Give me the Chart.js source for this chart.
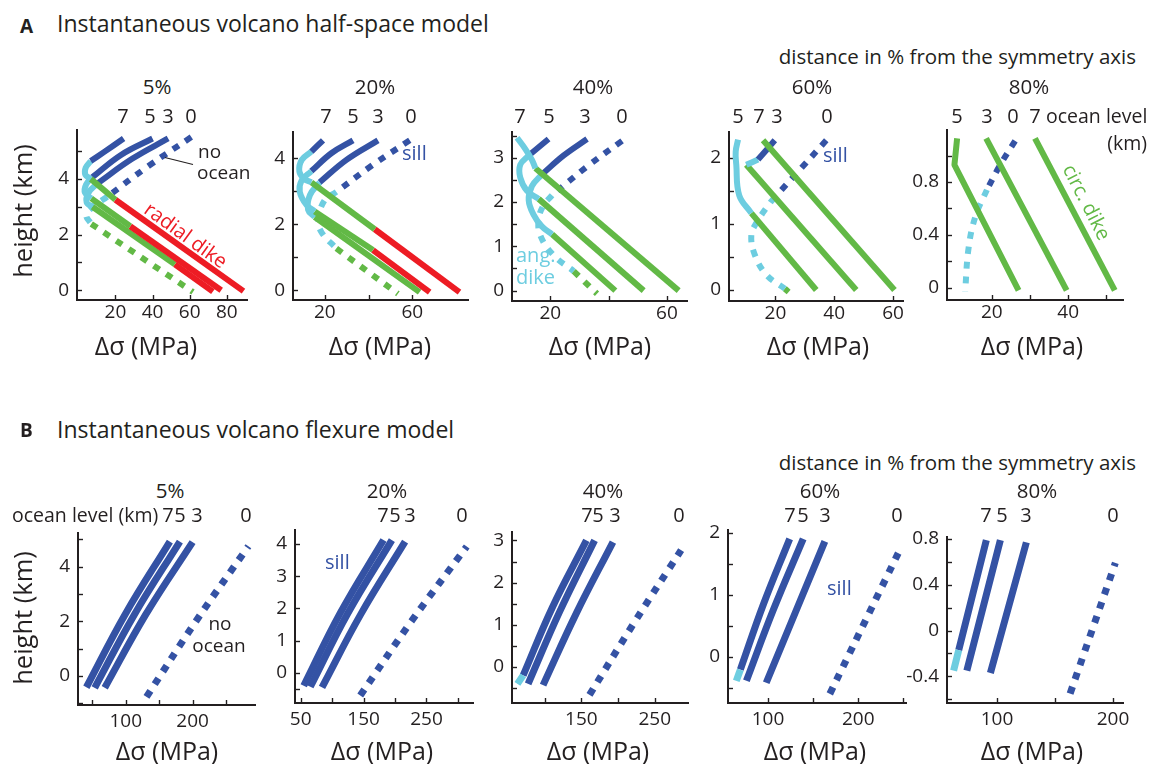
<!DOCTYPE html>
<html><head><meta charset="utf-8">
<script src="https://cdn.jsdelivr.net/npm/chart.js@4.4.1/dist/chart.umd.min.js"></script>
<style>
html,body{margin:0;padding:0;background:#fff}
body{width:1150px;height:764px;overflow:hidden;position:relative;font-family:"Open Sans",sans-serif;color:#231f20}
.t{position:absolute;white-space:nowrap;line-height:1}
canvas{position:absolute}
</style></head><body>
<script>
// ---------------- DATA ----------------
// regime codes: S = sill, A = ang. dike, C = circ. dike, R = radial dike
// each point: [Δσ (MPa), height (km), regime of the segment that starts at this point]
const oceanLevels = ['7','5','3','0'];
const distances = ['5%','20%','40%','60%','80%'];

// A: half-space model
const hs05_L7 = [[24.4,5.45,'S'],[14,4.97,'S'],[6.7,4.64,'A'],[4,4.4,'A'],[3.8,4.15,'A'],[6.7,4.0,'C'],[20,3.25,'R'],[89,-0.03,'R']];
const hs05_L5 = [[40,5.45,'S'],[23,4.86,'S'],[7.6,4.06,'A'],[4.2,3.8,'A'],[3.6,3.5,'A'],[7,3.3,'C'],[28,2.3,'R'],[77,0,'R']];
const hs05_L3 = [[48.4,5.45,'S'],[29,4.72,'S'],[10.2,3.83,'A'],[5.5,3.5,'A'],[4.5,3.15,'A'],[7.6,3.0,'C'],[52,0.93,'R'],[72.5,-0.05,'R']];
const hs05_L0 = [[60.9,5.5,'S'],[37.8,4.46,'S'],[15.6,3.36,'A'],[8,3.0,'A'],[4.3,2.7,'A'],[7,2.38,'C'],[61.8,-0.06,'C']];

const hs20_L7 = [[19.2,4.54,'S'],[13.9,4.2,'A'],[9.5,3.95,'A'],[8.4,3.6,'A'],[10.5,3.38,'A'],[13.9,3.27,'C'],[42.8,1.85,'R'],[81.5,-0.05,'R']];
const hs20_L5 = [[32.9,4.54,'S'],[23,4.15,'S'],[13.9,3.61,'A'],[9.4,3.32,'A'],[8.6,2.98,'A'],[11.6,2.59,'A'],[15.4,2.39,'C'],[42,1.22,'R'],[67.9,-0.05,'R']];
const hs20_L3 = [[44.3,4.54,'S'],[29.9,3.95,'S'],[17.7,3.27,'A'],[13.2,2.88,'A'],[12.4,2.44,'A'],[15.4,2.22,'C'],[63.3,-0.05,'C']];
const hs20_L0 = [[58.8,4.54,'S'],[42,3.8,'S'],[25.3,2.98,'A'],[20,2.73,'A'],[17,2.15,'A'],[18.5,1.76,'A'],[25.3,1.27,'C'],[53.4,-0.1,'C']];

const hs40_L7 = [[8.6,3.45,'A'],[11.4,3.2,'A'],[13.7,2.95,'A'],[14.9,2.76,'C'],[64,0,'C']];
const hs40_L5 = [[19.4,3.42,'S'],[12.6,3.05,'A'],[9.7,2.84,'A'],[9.7,2.55,'A'],[12,2.25,'A'],[16,2.07,'C'],[52,0,'C']];
const hs40_L3 = [[32.6,3.42,'S'],[24.6,3.05,'S'],[17.1,2.62,'A'],[13.7,2.36,'A'],[12.6,2.04,'A'],[14.3,1.71,'A'],[17.1,1.45,'A'],[20.6,1.27,'C'],[42.3,0,'C']];
const hs40_L0 = [[44.6,3.38,'S'],[32.6,2.8,'S'],[20.6,2.15,'A'],[17.7,1.93,'A'],[16,1.6,'A'],[16.6,1.24,'A'],[21.1,0.8,'A'],[28,0.44,'C'],[36,-0.07,'C']];

const hs60_L7 = [[15.8,2.26,'C'],[60.5,0,'C']];
const hs60_L5 = [[7.3,2.27,'A'],[6.5,2.09,'A'],[6.7,1.89,'A'],[7.7,1.43,'A'],[11.8,1.16,'C'],[33.9,0,'C']];
const hs60_L3 = [[19.8,2.26,'S'],[14.1,1.97,'A'],[10.1,1.89,'C'],[47.5,0,'C']];
const hs60_L0 = [[37.3,2.26,'S'],[28.8,1.84,'S'],[19.8,1.4,'A'],[18.1,1.31,'A'],[13.5,1.01,'A'],[11.8,0.82,'A'],[13,0.53,'A'],[16.9,0.23,'A'],[23.2,0.02,'C'],[24.5,-0.03,'C']];

const hs80_L7 = [[31.3,1.13,'C'],[52.2,-0.02,'C']];
const hs80_L5 = [[10.9,1.13,'C'],[10.2,0.93,'C'],[27,-0.02,'C']];
const hs80_L3 = [[18.5,1.13,'C'],[39.6,-0.02,'C']];
const hs80_L0 = [[26.1,1.11,'S'],[22.2,0.93,'S'],[18.7,0.74,'A'],[15.7,0.54,'A'],[13.9,0.30,'A'],[13,-0.03,'A']];

// B: flexure model
const fx05_L7 = [[41,-0.42,'S'],[99,2.25,'S'],[166,4.92,'S']];
const fx05_L5 = [[53.5,-0.44,'S'],[113,2.25,'S'],[181,4.92,'S']];
const fx05_L3 = [[68.5,-0.44,'S'],[130,2.25,'S'],[200,4.9,'S']];
const fx05_L0 = [[131,-0.77,'S'],[205,2.0,'S'],[283.5,4.75,'S']];

const fx20_L7 = [[54.8,-0.4,'S'],[113,1.86,'S'],[181.7,4.12,'S']];
const fx20_L5 = [[65.3,-0.43,'S'],[125,1.85,'S'],[195,4.12,'S']];
const fx20_L3 = [[83.9,-0.45,'S'],[145,1.8,'S'],[216,4.07,'S']];
const fx20_L0 = [[144.7,-0.7,'S'],[226,1.6,'S'],[314,3.92,'S']];

const fx40_L7 = [[62.7,-0.4,'A'],[70.5,-0.2,'S'],[110,1.4,'S'],[156.8,3.0,'S']];
const fx40_L5 = [[77.3,-0.4,'S'],[120,1.3,'S'],[168,3.0,'S']];
const fx40_L3 = [[97.7,-0.43,'S'],[143,1.27,'S'],[193,2.96,'S']];
const fx40_L0 = [[161,-0.66,'S'],[222,1.05,'S'],[286,2.77,'S']];

const fx60_L7 = [[64.8,-0.39,'A'],[69.3,-0.21,'S'],[95,0.85,'S'],[124,1.9,'S']];
const fx60_L5 = [[76,-0.39,'S'],[106,0.76,'S'],[139,1.9,'S']];
const fx60_L3 = [[98,-0.42,'S'],[163,1.86,'S']];
const fx60_L0 = [[168.5,-0.6,'S'],[244.4,1.67,'S']];

const fx80_L7 = [[62.6,-0.35,'A'],[67,-0.17,'S'],[90.8,0.79,'S']];
const fx80_L5 = [[74,-0.35,'S'],[102.9,0.79,'S']];
const fx80_L3 = [[94.3,-0.37,'S'],[125.3,0.77,'S']];
const fx80_L0 = [[163,-0.55,'S'],[202,0.59,'S']];

// tick values (all tick marks) and labelled ticks
const hs05_xTicks = [20,40,60,80],            hs05_xLabels = [20,40,60,80];
const hs05_yTicks = [0,1,2,3,4,5],            hs05_yLabels = [0,2,4];
const hs20_xTicks = [20,40,60],               hs20_xLabels = [20,60];
const hs20_yTicks = [0,1,2,3,4],              hs20_yLabels = [0,2,4];
const hs40_xTicks = [20,40,60],               hs40_xLabels = [20,60];
const hs40_yTicks = [0,0.5,1,1.5,2,2.5,3,3.5],hs40_yLabels = [0,1,2,3];
const hs60_xTicks = [20,40,60],               hs60_xLabels = [20,40,60];
const hs60_yTicks = [0,0.5,1,1.5,2],          hs60_yLabels = [0,1,2];
const hs80_xTicks = [20,30,40,50],            hs80_xLabels = [20,40];
const hs80_yTicks = [0,0.2,0.4,0.6,0.8,1.0],  hs80_yLabels = [0,0.4,0.8];
const fx05_xTicks = [50,100,150,200,250],     fx05_xLabels = [100,200];
const fx05_yTicks = [-1,0,1,2,3,4,5],         fx05_yLabels = [0,2,4];
const fx20_xTicks = [50,100,150,200,250,300], fx20_xLabels = [50,150,250];
const fx20_yTicks = [-0.5,0,1,2,3,4],         fx20_yLabels = [0,1,2,3,4];
const fx40_xTicks = [100,150,200,250],        fx40_xLabels = [150,250];
const fx40_yTicks = [-0.5,0,0.5,1,1.5,2,2.5,3], fx40_yLabels = [0,1,2,3];
const fx60_xTicks = [100,150,200,250],        fx60_xLabels = [100,200];
const fx60_yTicks = [-0.5,0,0.5,1,1.5,2],     fx60_yLabels = [0,1,2];
const fx80_xTicks = [100,150,200],            fx80_xLabels = [100,200];
const fx80_yTicks = [-0.6,-0.4,-0.2,0,0.2,0.4,0.6,0.8], fx80_yLabels = [-0.4,0,0.4,0.8];

// ---------------- STYLE / LAYOUT ----------------
const COL = {S:'#3452a4', A:'#6dcde0', C:'#62b946', R:'#ed1c24'};
const INK = '#231f20';
Chart.defaults.font.family = '"Open Sans", sans-serif';
Chart.defaults.color = INK;

const panels = [
  {curves:[hs05_L7,hs05_L5,hs05_L3,hs05_L0], xt:hs05_xTicks, xl:hs05_xLabels, yt:hs05_yTicks, yl:hs05_yLabels, area:[76.5,125,247,300], x:[-0.7,90.9], y:[-0.35,5.74], w:6, xpad:1},
  {curves:[hs20_L7,hs20_L5,hs20_L3,hs20_L0], xt:hs20_xTicks, xl:hs20_xLabels, yt:hs20_yTicks, yl:hs20_yLabels, area:[293.3,126.7,468.3,300], x:[5.5,85.4], y:[-0.29,4.78], w:6, xpad:1},
  {curves:[hs40_L7,hs40_L5,hs40_L3,hs40_L0], xt:hs40_xTicks, xl:hs40_xLabels, yt:hs40_yTicks, yl:hs40_yLabels, area:[511.7,126.7,686.7,300.7], x:[6.87,66.86], y:[-0.234,3.57], w:6, xpad:1},
  {curves:[hs60_L7,hs60_L5,hs60_L3,hs60_L0], xt:hs60_xTicks, xl:hs60_xLabels, yt:hs60_yTicks, yl:hs60_yLabels, area:[729.3,126.7,903.3,300.7], x:[4.22,63.4], y:[-0.167,2.38], w:6, xpad:1},
  {curves:[hs80_L7,hs80_L5,hs80_L3,hs80_L0], xt:hs80_xTicks, xl:hs80_xLabels, yt:hs80_yTicks, yl:hs80_yLabels, area:[946.7,125,1123.3,300], x:[8.25,54.36], y:[-0.093,1.19], w:6, xpad:1},
  {curves:[fx05_L7,fx05_L5,fx05_L3,fx05_L0], xt:fx05_xTicks, xl:fx05_xLabels, yt:fx05_yTicks, yl:fx05_yLabels, area:[78.3,528.3,255,705], x:[28.5,293.4], y:[-1.07,5.22], w:7, xpad:5},
  {curves:[fx20_L7,fx20_L5,fx20_L3,fx20_L0], xt:fx20_xTicks, xl:fx20_xLabels, yt:fx20_yTicks, yl:fx20_yLabels, area:[295,525,473.3,702.7], x:[40.95,324], y:[-0.934,4.42], w:7, xpad:5},
  {curves:[fx40_L7,fx40_L5,fx40_L3,fx40_L0], xt:fx40_xTicks, xl:fx40_xLabels, yt:fx40_yTicks, yl:fx40_yLabels, area:[512.3,526.7,688.3,703.3], x:[55.3,295.4], y:[-0.854,3.19], w:7, xpad:5},
  {curves:[fx60_L7,fx60_L5,fx60_L3,fx60_L0], xt:fx60_xTicks, xl:fx60_xLabels, yt:fx60_yTicks, yl:fx60_yLabels, area:[728.3,525,906,702.7], x:[55.6,253], y:[-0.747,2.036], w:7, xpad:5},
  {curves:[fx80_L7,fx80_L5,fx80_L3,fx80_L0], xt:fx80_xTicks, xl:fx80_xLabels, yt:fx80_yTicks, yl:fx80_yLabels, area:[946.7,531.7,1122.7,703.3], x:[56.9,208.6], y:[-0.632,0.813], w:7, xpad:5}
];

const inTicks = {
  id:'inTicks',
  beforeDatasetsDraw(chart){
    const c = chart.ctx, a = chart.chartArea, sx = chart.scales.x, sy = chart.scales.y;
    c.save(); c.strokeStyle = INK; c.lineWidth = 1.4;
    sx.ticks.forEach(t=>{const p=Math.round(sx.getPixelForValue(t.value))+0.5; c.beginPath(); c.moveTo(p,a.bottom); c.lineTo(p,a.bottom-5); c.stroke();});
    sy.ticks.forEach(t=>{const p=Math.round(sy.getPixelForValue(t.value))+0.5; c.beginPath(); c.moveTo(a.left,p); c.lineTo(a.left+5,p); c.stroke();});
    c.restore();
  }
};

function buildDatasets(curves, width){
  const out = [];
  curves.forEach((pts, ci) => {
    const dashed = oceanLevels[ci] === '0';
    let start = 0;
    for (let j = 1; j < pts.length; j++){
      if (j === pts.length-1 || pts[j][2] !== pts[start][2]){
        const r = pts[start][2];
        out.push({
          data: pts.slice(start, j+1).map(p=>({x:p[0], y:p[1]})),
          borderColor: COL[r], backgroundColor: COL[r],
          borderWidth: width, borderDash: dashed ? [7,8] : [],
          borderCapStyle:'butt', borderJoinStyle:'round',
          pointRadius:0, showLine:true, fill:false, clip:false,
          tension: (r==='A'||r==='S') ? 0.4 : 0
        });
        start = j;
      }
    }
  });
  return out;
}

const fmt = v => String(Math.round(v*10)/10);

panels.forEach(p => {
  const [L,T,R,B] = p.area.map(Math.round);
  const padT = 14, padR = 14, yW = 60, xH = 40;
  const cv = document.createElement('canvas');
  cv.width = (R-L) + yW + padR; cv.height = (B-T) + padT + xH;
  cv.style.left = (L - yW) + 'px'; cv.style.top = (T - padT) + 'px';
  cv.style.width = cv.width + 'px'; cv.style.height = cv.height + 'px';
  document.body.appendChild(cv);
  new Chart(cv, {
    type:'scatter',
    data:{datasets: buildDatasets(p.curves, p.w)},
    options:{
      responsive:false, animation:false, devicePixelRatio:1,
      layout:{padding:{left:0, top:padT, right:padR, bottom:0}},
      plugins:{legend:{display:false}, tooltip:{enabled:false}},
      scales:{
        x:{type:'linear', position:'bottom', min:p.x[0], max:p.x[1],
           afterFit(s){ s.height = xH; },
           afterBuildTicks(s){ s.ticks = p.xt.map(v=>({value:v})); },
           grid:{display:true, drawOnChartArea:false, drawTicks:false},
           border:{display:true, color:INK, width:2},
           ticks:{autoSkip:false, maxRotation:0, padding:p.xpad, font:{size:19}, color:INK,
                  callback:v => p.xl.some(l=>Math.abs(l-v)<1e-9) ? fmt(v) : ''}},
        y:{type:'linear', position:'left', min:p.y[0], max:p.y[1],
           afterFit(s){ s.width = yW; },
           afterBuildTicks(s){ s.ticks = p.yt.map(v=>({value:v})); },
           grid:{display:true, drawOnChartArea:false, drawTicks:false},
           border:{display:true, color:INK, width:2},
           ticks:{autoSkip:false, padding:8, font:{size:19}, color:INK,
                  callback:v => p.yl.some(l=>Math.abs(l-v)<1e-9) ? fmt(v) : ''}}
      }
    },
    plugins:[inTicks]
  });
});

// ---------------- TEXT ----------------
function txt(s, x, y, o={}){
  const d = document.createElement('div');
  d.className = 't'; d.textContent = s;
  d.style.left = x+'px'; d.style.top = y+'px';
  d.style.fontSize = (o.size||18)+'px';
  if (o.color) d.style.color = o.color;
  if (o.bold) d.style.fontWeight = '700';
  const ax = o.anchor==='l' ? '0' : o.anchor==='r' ? '-100%' : '-50%';
  d.style.transform = `translate(${ax},-50%)` + (o.rot ? ` rotate(${o.rot}deg)` : '');
  document.body.appendChild(d);
}
function lineDiv(x1,y1,x2,y2){
  const d = document.createElement('div');
  const len = Math.hypot(x2-x1,y2-y1), ang = Math.atan2(y2-y1,x2-x1)*180/Math.PI;
  d.style.cssText = `position:absolute;left:${x1}px;top:${y1}px;width:${len}px;height:0;border-top:1.6px solid ${INK};transform-origin:0 0;transform:rotate(${ang}deg)`;
  document.body.appendChild(d);
}

// section A
txt('A', 20, 26, {anchor:'l', bold:true, size:19});
txt('Instantaneous volcano half-space model', 57, 23, {anchor:'l', size:23});
txt('distance in % from the symmetry axis', 1136, 56, {anchor:'r', size:20.5});
[157,375,593,812,1029].forEach((x,i)=>txt(distances[i], x, 86, {size:20.5}));
const A_lab = [[123,150,168,191],[326,353,378,411],[520,549,585,622],[759,738,777,827],[1035,957,987,1013]];
A_lab.forEach(xs => xs.forEach((x,i)=>txt(oceanLevels[i], x, 116, {size:20})));
txt('ocean level', 1046, 116, {anchor:'l', size:19.5});
txt('(km)', 1147, 143, {anchor:'r', size:19.5});
txt('height (km)', 23, 211, {size:25.5, rot:-90});
[146,380,600,818,1032].forEach(x=>txt('Δσ (MPa)', x, 345, {size:25}));
txt('no', 198, 151, {anchor:'l', size:19});
txt('ocean', 197, 172, {anchor:'l', size:19});
lineDiv(165,157,193,164);
txt('radial dike', 186, 235, {size:20, color:COL.R, rot:36});
txt('sill', 402, 153, {anchor:'l', size:20, color:COL.S});
txt('ang.', 516, 255, {anchor:'l', size:20, color:COL.A});
txt('dike', 516, 277, {anchor:'l', size:20, color:COL.A});
txt('sill', 823, 155, {anchor:'l', size:20, color:COL.S});
txt('circ. dike', 1087, 202, {size:20, color:COL.C, rot:63});

// section B
txt('B', 20, 430, {anchor:'l', bold:true, size:19});
txt('Instantaneous volcano flexure model', 57, 429, {anchor:'l', size:23});
txt('distance in % from the symmetry axis', 1136, 462, {anchor:'r', size:20.5});
[170,387,603,820,1037].forEach((x,i)=>txt(distances[i], x, 490, {size:20.5}));
txt('ocean level (km)', 12, 515, {anchor:'l', size:19.5});
const B_lab = [[168,180,197,246],[383,395,410,462],[587,598,615,679],[790,803,825,897],[986,1002,1026,1113]];
B_lab.forEach(xs => xs.forEach((x,i)=>txt(oceanLevels[i], x, 515, {size:20})));
txt('height (km)', 23, 618, {size:25.5, rot:-90});
[167,382,598,815,1032].forEach(x=>txt('Δσ (MPa)', x, 750, {size:25}));
txt('no', 220, 623, {size:19});
txt('ocean', 219, 645, {size:19});
txt('sill', 325, 562, {anchor:'l', size:20, color:COL.S});
txt('sill', 827, 588, {anchor:'l', size:20, color:COL.S});
</script>
</body></html>
